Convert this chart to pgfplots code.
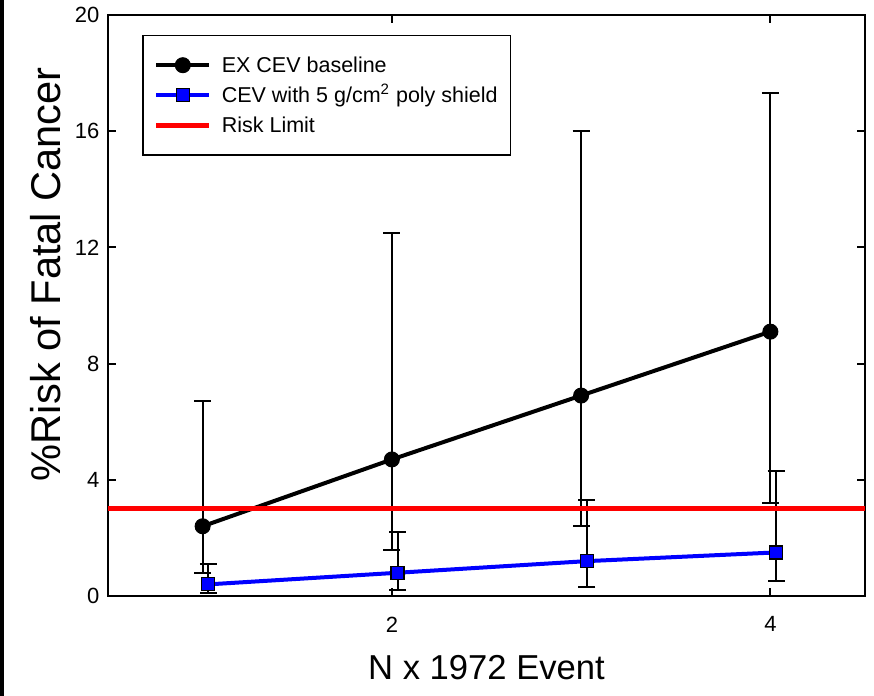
\documentclass[border=0pt]{standalone}
\usepackage{fontspec}
\setmainfont{Liberation Sans}
\usepackage{pgfplots}
\usepackage{pgfplotstable}
\pgfplotsset{compat=1.18}

% Risk of fatal cancer, with asymmetric uncertainty (plus / minus)
\pgfplotstableread{
x    y    ep   em
1    2.4  4.3  1.6
2    4.7  7.8  3.1
3    6.9  9.1  4.5
4    9.1  8.2  5.9
}\baseline

\pgfplotstableread{
x     y    ep   em
1.03  0.4  0.7  0.3
2.03  0.8  1.4  0.6
3.03  1.2  2.1  0.9
4.03  1.5  2.8  1.0
}\shielded

\pgfplotstableread{
x    y
0.5  3
4.5  3
}\risklimit

\begin{document}
\begin{tikzpicture}
\path[use as bounding box] (-54pt,-50pt) rectangle (383pt,298pt);
\fill[black] (-54pt,-50pt) rectangle (-52pt,298pt);
\begin{axis}[
  scale only axis,
  width=378.5pt, height=290.5pt,
  xmin=0.5, xmax=4.5, ymin=0, ymax=20,
  xtick={2,4}, ytick={0,4,8,12,16,20},
  tick align=inside, major tick length=4pt,
  axis line style={line width=1pt},
  every tick/.style={black, line width=1pt},
  /pgf/number format/assume math mode=true,
  tick label style={font=\fontsize{11}{13}\selectfont},
  yticklabel style={xshift=-0.8pt},
  xticklabel style={yshift=-6.8pt},
  xlabel={N x 1972 Event},
  ylabel={\%Risk of Fatal Cancer},
  xlabel style={at={(axis description cs:0.5,-0.124)}, anchor=center,
    font=\fontsize{17.3}{20}\selectfont},
  ylabel style={at={(axis description cs:-0.083,0.554)}, anchor=center,
    font=\fontsize{20.8}{24}\selectfont},
  legend style={at={(0.045,0.966)}, anchor=north west,
    draw=black, line width=0.75pt,
    inner xsep=5.5pt, inner ysep=8pt, row sep=1.3pt,
    font=\fontsize{10.75}{12}\selectfont,
    nodes={inner sep=1pt, text height=9.7pt, text depth=2pt},
    /tikz/column 2/.style={column sep=0pt},
    /tikz/column sep=4pt},
  legend cell align=left,
  legend image code/.code={
    \draw[mark repeat=2, mark phase=2, #1]
      plot coordinates {(0pt,0pt) (13.25pt,0pt) (26.5pt,0pt)};},
  error bars/error bar style={line width=1pt, black},
  error bars/error mark options={rotate=90, mark size=4.25pt, line width=1pt, black},
]
\addplot[black, line width=2pt, mark=*, mark size=3.75pt,
  mark options={fill=black, draw=black, line width=0.5pt},
  error bars/.cd, y dir=both, y explicit]
  table[x=x, y=y, y error plus=ep, y error minus=em] {\baseline};
\addlegendentry{EX CEV baseline}

\addplot[blue, line width=2pt, mark=square*, mark size=3.25pt,
  mark options={fill=blue, draw=black, line width=0.6pt},
  error bars/.cd, y dir=both, y explicit]
  table[x=x, y=y, y error plus=ep, y error minus=em] {\shielded};
\addlegendentry{CEV with 5 g/cm\textsuperscript{2} poly shield}

\addplot[red, line width=2.5pt] table[x=x, y=y] {\risklimit};
\addlegendentry{Risk Limit}
\end{axis}
\end{tikzpicture}
\end{document}
